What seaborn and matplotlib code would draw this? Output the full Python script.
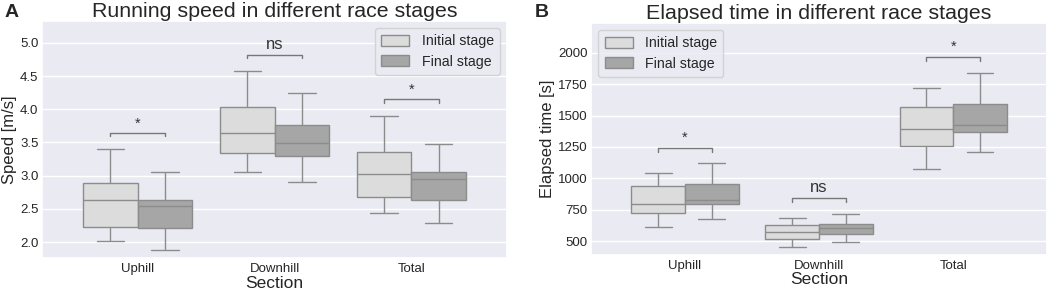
import numpy as np
import pandas as pd
import matplotlib
matplotlib.use("Agg")
import matplotlib.pyplot as plt
import seaborn as sns

# =============================================
# DATA (five-number summaries: min, q1, median, q3, max)
# =============================================
sections = ["Uphill", "Downhill", "Total"]
stages = ["Initial stage", "Final stage"]

speed_initial = {
    "Uphill":   [2.02, 2.23, 2.64, 2.89, 3.40],
    "Downhill": [3.06, 3.34, 3.64, 4.03, 4.58],
    "Total":    [2.44, 2.68, 3.02, 3.35, 3.90],
}
speed_final = {
    "Uphill":   [1.88, 2.21, 2.54, 2.63, 3.06],
    "Downhill": [2.91, 3.29, 3.49, 3.77, 4.24],
    "Total":    [2.29, 2.64, 2.95, 3.06, 3.48],
}
time_initial = {
    "Uphill":   [617, 725, 799, 940, 1045],
    "Downhill": [458, 519, 571, 627, 683],
    "Total":    [1077, 1254, 1392, 1567, 1720],
}
time_final = {
    "Uphill":   [680, 797, 825, 952, 1119],
    "Downhill": [495, 559, 603, 635, 714],
    "Total":    [1209, 1371, 1424, 1590, 1839],
}

# significance brackets: label and height per section
speed_sig = ["*", "ns", "*"]
speed_sig_y = [3.64, 4.82, 4.15]
time_sig = ["*", "ns", "*"]
time_sig_y = [1241, 841, 1963]


def to_long(initial, final, col):
    rows = []
    for sec in sections:
        for v in initial[sec]:
            rows.append((sec, stages[0], v))
        for v in final[sec]:
            rows.append((sec, stages[1], v))
    return pd.DataFrame(rows, columns=["Section", "Stage", col])


df_speed = to_long(speed_initial, speed_final, "Speed")
df_time = to_long(time_initial, time_final, "Time")

sns.set_theme(style="darkgrid")
plt.rcParams["font.family"] = ["Liberation Sans", "DejaVu Sans"]

palette = {"Initial stage": "#dcdcdc", "Final stage": "#a6a6a6"}

fig = plt.figure(figsize=(10.56, 2.91), dpi=100)
ax1 = fig.add_axes([0.0398, 0.1134, 0.4404, 0.8146])
ax2 = fig.add_axes([0.5597, 0.124, 0.4318, 0.798])


def draw(ax, df, col, sig, sig_y, tick_h, txt_off, title, ylabel, ylim, yticks, legend_loc):
    sns.boxplot(data=df, x="Section", y=col, hue="Stage", order=sections,
                hue_order=stages, palette=palette, saturation=1, whis=(0, 100),
                width=0.8, linecolor="#8c8c8c", linewidth=1.0, ax=ax)
    for i, (lab, y) in enumerate(zip(sig, sig_y)):
        x0, x1 = i - 0.2, i + 0.2
        ax.plot([x0, x0, x1, x1], [y - tick_h, y, y, y - tick_h], color="#777777", lw=1.0)
        ax.text(i, y + txt_off, lab, ha="center", va="bottom",
                fontsize=12 if lab == "ns" else 10.5, color="#333333")
    ax.set_xlim(-0.7, 2.7)
    ax.set_ylim(*ylim)
    ax.set_yticks(yticks)
    ax.set_title(title, fontsize=15.4, pad=3)
    ax.set_xlabel("Section", fontsize=12.5, labelpad=0.5)
    ax.set_ylabel(ylabel, fontsize=12, labelpad=2)
    ax.tick_params(axis="x", labelsize=9.5, pad=3.5, length=0)
    ax.tick_params(axis="y", labelsize=9.5, pad=2.5, length=0)
    ax.legend(loc=legend_loc, fontsize=10.2, handlelength=2.0, handleheight=0.8,
              handletextpad=0.85, borderpad=0.45, labelspacing=0.45, frameon=True)


draw(ax1, df_speed, "Speed", speed_sig, speed_sig_y, 0.05, 0.04,
     "Running speed in different race stages", "Speed [m/s]",
     (1.76, 5.33), np.arange(2.0, 5.01, 0.5), "upper right")
draw(ax2, df_time, "Time", time_sig, time_sig_y, 28, 25,
     "Elapsed time in different race stages", "Elapsed time [s]",
     (392, 2238), [500, 750, 1000, 1250, 1500, 1750, 2000], "upper left")

fig.text(0.004, 0.985, "A", fontsize=14, fontweight="bold", va="top", ha="left")
fig.text(0.506, 0.985, "B", fontsize=14, fontweight="bold", va="top", ha="left")

fig.savefig("out.png", dpi=100)
